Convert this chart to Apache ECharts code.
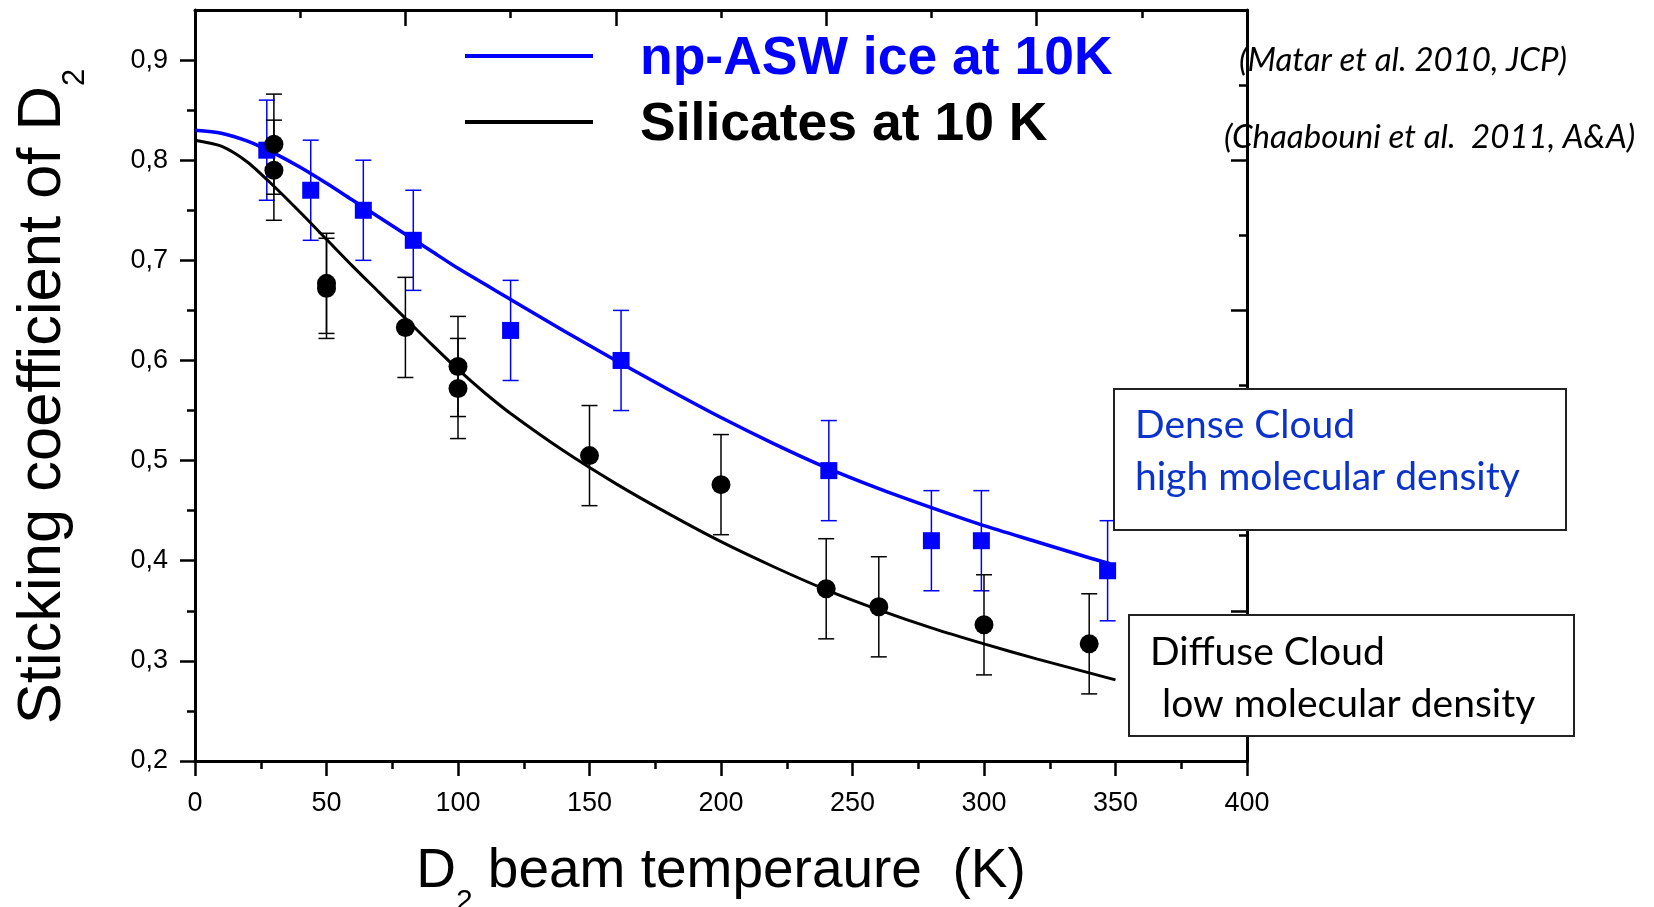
<!DOCTYPE html>
<html><head><meta charset="utf-8">
<script src="https://cdn.jsdelivr.net/npm/echarts@6/dist/echarts.min.js"></script>
<style>html,body{margin:0;padding:0;background:#fff}#c{width:1654px;height:907px}</style>
</head><body><div id="c"></div>
<script>
// ---- data ----
const iceT   = [27.3, 44, 64, 83, 120, 162, 241, 280, 299, 347];
const iceS   = [0.81, 0.77, 0.75, 0.72, 0.63, 0.60, 0.49, 0.42, 0.42, 0.39];
const iceErr = [0.05, 0.05, 0.05, 0.05, 0.05, 0.05, 0.05, 0.05, 0.05, 0.05];

const silT   = [30, 30, 50, 50, 80, 100, 100, 150, 200, 240, 260, 300, 340];
const silS   = [0.816, 0.790, 0.677, 0.672, 0.633, 0.594, 0.572, 0.505, 0.476, 0.372, 0.354, 0.336, 0.317];
const silErr = [0.05, 0.05, 0.05, 0.05, 0.05, 0.05, 0.05, 0.05, 0.05, 0.05, 0.05, 0.05, 0.05];

const iceFitT = [0, 10, 20, 30, 40, 50, 60, 70, 80, 90, 100, 120, 140, 160, 180, 200, 220, 240, 260, 280, 300, 320, 340, 348];
const iceFitS = [0.830, 0.827, 0.819, 0.807, 0.793, 0.777, 0.760, 0.743, 0.726, 0.709, 0.692, 0.661, 0.630, 0.600, 0.571, 0.543, 0.517, 0.493, 0.472, 0.453, 0.435, 0.419, 0.403, 0.397];

const silFitT = [0, 10, 20, 30, 40, 50, 60, 70, 80, 90, 100, 110, 120, 140, 160, 180, 200, 220, 240, 260, 280, 300, 320, 340, 350];
const silFitS = [0.820, 0.814, 0.798, 0.774, 0.748, 0.721, 0.694, 0.668, 0.642, 0.616, 0.591, 0.568, 0.547, 0.510, 0.477, 0.447, 0.419, 0.394, 0.371, 0.351, 0.333, 0.317, 0.302, 0.288, 0.281];

const seriesNames = ['np-ASW ice at 10K', 'Silicates at 10 K'];
const yMajorTicks = [0.2, 0.3, 0.4, 0.5, 0.6, 0.7, 0.8, 0.9];
const yMinorTicks = [0.25, 0.35, 0.45, 0.55, 0.65, 0.75, 0.85];
const refNotes = ['(Matar et al. 2010, JCP)', '(Chaabouni et al.  2011, A&A)'];
const denseLines = ['Dense Cloud', 'high molecular density'];
const diffuseLines = ['Diffuse Cloud', ' low molecular density'];

// ---- chart ----
const FONT = 'Liberation Sans, Arial, sans-serif';
const GILL = 'Lato, "Open Sans", sans-serif';
const BLUE = '#0000ff';
const BOXBLUE = '#0b33cc';

function zip(a, b) { return a.map((v, i) => [v, b[i]]); }
function errData(t, s, e) { return t.map((v, i) => [v, s[i] - e[i], s[i] + e[i]]); }
function errBar(color, lw) {
  return function (params, api) {
    const x = api.value(0);
    const pLo = api.coord([x, api.value(1)]);
    const pHi = api.coord([x, api.value(2)]);
    const w = 8;
    const style = { stroke: color, lineWidth: lw, fill: null };
    return { type: 'group', children: [
      { type: 'line', shape: { x1: pLo[0], y1: pLo[1], x2: pHi[0], y2: pHi[1] }, style },
      { type: 'line', shape: { x1: pLo[0] - w, y1: pLo[1], x2: pLo[0] + w, y2: pLo[1] }, style },
      { type: 'line', shape: { x1: pHi[0] - w, y1: pHi[1], x2: pHi[0] + w, y2: pHi[1] }, style }
    ] };
  };
}

const axLine = { show: true, onZero: false, lineStyle: { color: '#000', width: 3 } };
const tickStyle = { color: '#000', width: 2.5 };

const option = {
  animation: false,
  backgroundColor: '#fff',
  grid: { left: 195, right: 407, top: 10, bottom: 146, containLabel: false, outerBoundsMode: 'none' },
  legend: {
    left: 465, top: 32, orient: 'vertical', padding: 0, itemGap: 12,
    itemWidth: 128, itemHeight: 4, icon: 'rect', selectedMode: false,
    formatter: '{g|}{name}',
    textStyle: { fontSize: 53.5, fontWeight: 'bold', fontFamily: FONT, padding: [6, 0, 0, 0], rich: { g: { width: 42 } } },
    data: [
      { name: seriesNames[0], textStyle: { color: BLUE } },
      { name: seriesNames[1], textStyle: { color: '#000' } }
    ]
  },
  xAxis: [
    {
      type: 'value', min: 0, max: 400, interval: 50, position: 'bottom',
      axisLine: axLine,
      axisTick: { show: true, inside: false, length: 15, lineStyle: tickStyle },
      minorTick: { show: true, splitNumber: 2, length: 8, lineStyle: tickStyle },
      splitLine: { show: false }, minorSplitLine: { show: false },
      axisLabel: { fontSize: 27, color: '#000', fontFamily: FONT, margin: 29 },
      name: '{m|D}{s|2}{m| beam temperaure  (K)}',
      nameLocation: 'middle', nameGap: 81,
      nameTextStyle: {
        color: '#000', fontFamily: FONT, fontSize: 55,
        rich: {
          m: { fontSize: 55, lineHeight: 60, fontFamily: FONT, color: '#000' },
          s: { fontSize: 30, lineHeight: 30, padding: [60, 0, 0, 0], fontFamily: FONT, color: '#000' }
        }
      }
    },
    {
      type: 'value', min: 0, max: 5, interval: 1, position: 'top',
      axisLine: axLine,
      axisTick: { show: true, inside: true, length: 16, lineStyle: tickStyle },
      minorTick: { show: true, splitNumber: 2, length: 8, lineStyle: tickStyle },
      splitLine: { show: false }, axisLabel: { show: false }
    }
  ],
  yAxis: [
    {
      type: 'value', min: 0.2, max: 0.95, interval: 0.1, position: 'left',
      axisLine: axLine,
      axisTick: { show: true, inside: false, length: 15, lineStyle: tickStyle, customValues: yMajorTicks },
      splitLine: { show: false },
      axisLabel: {
        fontSize: 27, color: '#000', fontFamily: FONT, margin: 27, customValues: yMajorTicks,
        formatter: v => v.toFixed(1).replace('.', ',')
      },
      name: '{m|Sticking coefficient of D}{s|2}',
      nameLocation: 'middle', nameRotate: 90, nameGap: 120,
      nameTextStyle: {
        color: '#000', fontFamily: FONT, fontSize: 61.5, padding: [0, 22, 0, 0],
        rich: {
          m: { fontSize: 61.5, lineHeight: 64, fontFamily: FONT, color: '#000' },
          s: { fontSize: 31, lineHeight: 31, padding: [64, 0, 0, 0], fontFamily: FONT, color: '#000' }
        }
      }
    },
    {
      type: 'value', min: 0.2, max: 0.95, position: 'left',
      axisLine: { show: false, onZero: false },
      axisTick: { show: true, inside: false, length: 8, lineStyle: tickStyle, customValues: yMinorTicks },
      axisLabel: { show: false }, splitLine: { show: false }
    },
    {
      type: 'value', min: 0, max: 5, interval: 1, position: 'right',
      axisLine: axLine,
      axisTick: { show: true, inside: true, length: 16, lineStyle: tickStyle },
      minorTick: { show: true, splitNumber: 2, length: 8, lineStyle: tickStyle },
      splitLine: { show: false }, axisLabel: { show: false }
    }
  ],
  series: [
    { name: 'ice-err', type: 'custom', renderItem: errBar(BLUE, 1.5), data: errData(iceT, iceS, iceErr),
      encode: { x: 0, y: [1, 2] }, z: 2, silent: true },
    { name: 'sil-err', type: 'custom', renderItem: errBar('#000', 1.5), data: errData(silT, silS, silErr),
      encode: { x: 0, y: [1, 2] }, z: 2, silent: true },
    { name: seriesNames[0], type: 'line', color: BLUE, data: zip(iceFitT, iceFitS), showSymbol: false, symbol: 'none',
      smooth: 0.25, lineStyle: { width: 3.5, color: BLUE }, z: 3 },
    { name: seriesNames[1], type: 'line', color: '#000', data: zip(silFitT, silFitS), showSymbol: false, symbol: 'none',
      smooth: 0.25, lineStyle: { width: 3, color: '#000' }, z: 3 },
    { name: 'ice-pts', type: 'scatter', data: zip(iceT, iceS), symbol: 'rect', symbolSize: 17,
      itemStyle: { color: BLUE, opacity: 1 }, z: 4 },
    { name: 'sil-pts', type: 'scatter', data: zip(silT, silS), symbol: 'circle', symbolSize: 19,
      itemStyle: { color: '#000', opacity: 1 }, z: 5 }
  ],
  graphic: [
    { type: 'text', x: 1239, y: 60, z: 100,
      style: { text: refNotes[0], fontSize: 33, fontStyle: 'italic', fontFamily: GILL, fill: '#000', align: 'left', verticalAlign: 'middle' } },
    { type: 'text', x: 1224, y: 137, z: 100,
      style: { text: refNotes[1], fontSize: 33, fontStyle: 'italic', fontFamily: GILL, fill: '#000', align: 'left', verticalAlign: 'middle' } },
    { type: 'rect', z: 100, shape: { x: 1114, y: 389, width: 452, height: 141 },
      style: { fill: '#fff', stroke: '#222', lineWidth: 2 } },
    { type: 'text', x: 1135, y: 425, z: 101,
      style: { text: denseLines[0], fontSize: 39, fontFamily: GILL, fill: BOXBLUE, align: 'left', verticalAlign: 'middle' } },
    { type: 'text', x: 1135, y: 477, z: 101,
      style: { text: denseLines[1], fontSize: 39, fontFamily: GILL, fill: BOXBLUE, align: 'left', verticalAlign: 'middle' } },
    { type: 'rect', z: 100, shape: { x: 1129, y: 615, width: 445, height: 121 },
      style: { fill: '#fff', stroke: '#222', lineWidth: 2 } },
    { type: 'text', x: 1150, y: 652, z: 101,
      style: { text: diffuseLines[0], fontSize: 39, fontFamily: GILL, fill: '#000', align: 'left', verticalAlign: 'middle' } },
    { type: 'text', x: 1152, y: 704, z: 101,
      style: { text: diffuseLines[1], fontSize: 39, fontFamily: GILL, fill: '#000', align: 'left', verticalAlign: 'middle' } }
  ]
};

const chart = echarts.init(document.getElementById('c'));
chart.setOption(option);
</script>
</body></html>
